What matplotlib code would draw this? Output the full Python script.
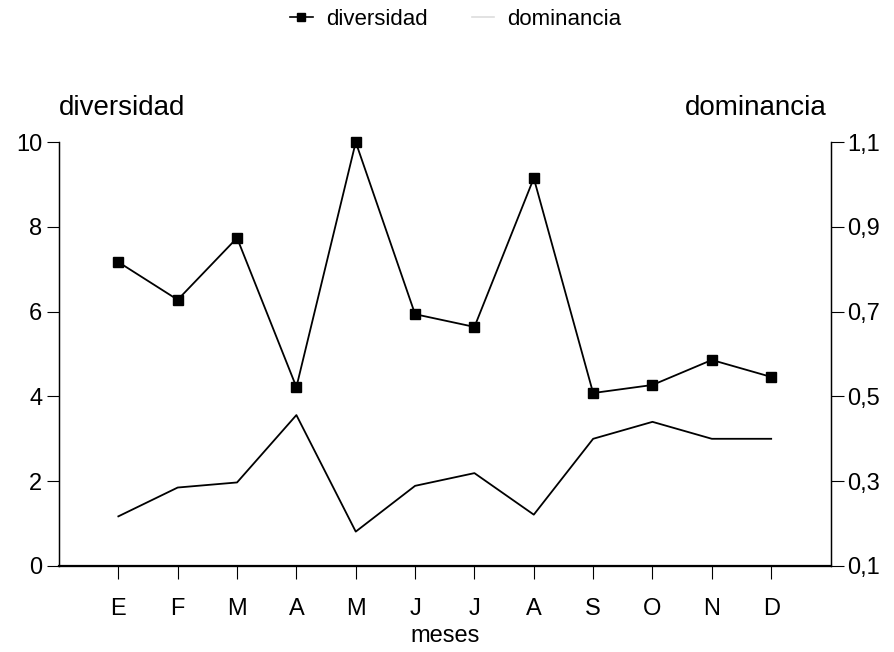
import numpy as np
import matplotlib
matplotlib.use("Agg")
import matplotlib.pyplot as plt
from matplotlib.lines import Line2D

plt.rcParams['font.family'] = ['Liberation Sans', 'DejaVu Sans']
FS = 17

# monthly values
meses = ['E', 'F', 'M', 'A', 'M', 'J', 'J', 'A', 'S', 'O', 'N', 'D']
diversidad = [7.17, 6.28, 7.74, 4.22, 10.0, 5.94, 5.64, 9.15, 4.08, 4.27, 4.86, 4.46]
dominancia = [0.217, 0.285, 0.297, 0.456, 0.181, 0.289, 0.319, 0.221, 0.400, 0.440, 0.400, 0.400]

div_ticks = [0, 2, 4, 6, 8, 10]
dom_ticks = [0.1, 0.3, 0.5, 0.7, 0.9, 1.1]

x = np.arange(1, len(meses) + 1)

fig = plt.figure(figsize=(8.94, 6.52), dpi=100)
ax = fig.add_axes([0.066, 0.132, 0.863, 0.650])
ax2 = ax.twinx()
ax.set_zorder(ax2.get_zorder() + 1)
ax.patch.set_visible(False)

ax.plot(x, diversidad, color='black', lw=1.3, marker='s', ms=7.5, clip_on=False)
ax2.plot(x, dominancia, color='black', lw=1.3)

ax.set_xlim(0, len(meses) + 1)
ax.set_ylim(0, 10)
ax2.set_ylim(0.1, 1.1)

ax.set_xticks(x)
ax.set_xticklabels(meses, fontsize=FS)
ax.set_yticks(div_ticks)
ax.set_yticklabels([str(t) for t in div_ticks], fontsize=FS)
ax2.set_yticks(dom_ticks)
ax2.set_yticklabels([f"{t:.1f}".replace('.', ',') for t in dom_ticks], fontsize=FS)

for a in (ax, ax2):
    a.spines['top'].set_visible(False)
    a.tick_params(direction='out', length=9, width=0.8, pad=3)
ax.spines['bottom'].set_linewidth(1.6)
ax.spines['left'].set_linewidth(1.0)
ax2.spines['right'].set_linewidth(1.0)
ax.tick_params(axis='x', pad=14)

fig.text(0.498, 0.024, 'meses', fontsize=FS, ha='center', va='center')
fig.text(0.066, 0.834, 'diversidad', fontsize=20, ha='left', va='center')
fig.text(0.925, 0.834, 'dominancia', fontsize=20, ha='right', va='center')

handles = [Line2D([], [], color='black', lw=1.2, marker='s', ms=6),
           Line2D([], [], color='#dddddd', lw=1.2)]
fig.legend(handles, ['diversidad', 'dominancia'], loc='center',
           bbox_to_anchor=(0.51, 0.970), ncol=2, frameon=False, fontsize=16,
           handlelength=1.0, columnspacing=2.0, handletextpad=0.6)

fig.savefig('out.png', dpi=100)
